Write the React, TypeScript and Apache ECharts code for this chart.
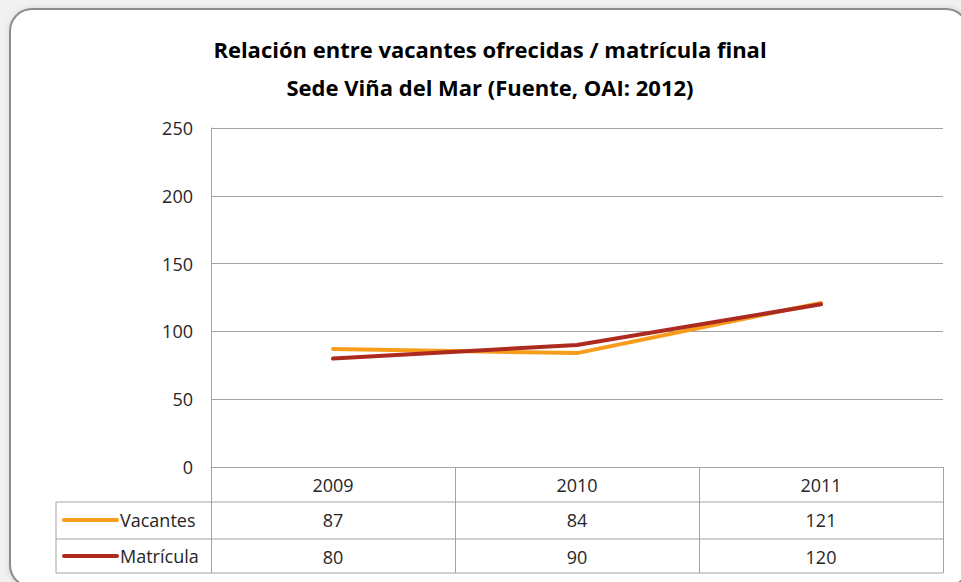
import React, { useEffect, useRef } from 'react';
import * as echarts from 'echarts';

const years = ['2009', '2010', '2011'];
const vacantes = [87, 84, 121];
const matricula = [80, 90, 120];
const seriesNames = ['Vacantes', 'Matrícula'];
const seriesColors = ['#F89C1C', '#AC2A1E'];
const titleLines = ['Relación entre vacantes ofrecidas / matrícula final', 'Sede Viña del Mar (Fuente, OAI: 2012)'];
const yMin = 0;
const yMax = 250;
const yStep = 50;

const FONT = "'Open Sans', 'Noto Sans', sans-serif";
const LINE_GRAY = '#a3a3a3';
const TEXT = '#262626';

export default function App() {
  const ref = useRef<HTMLDivElement>(null);
  useEffect(() => {
    const chart = echarts.init(ref.current!, null, { renderer: 'svg' });
    const rowData = [vacantes, matricula];
    const tableLeft = 56;
    const gridLeft = 211;
    const gridRight = 943;
    const rowLines = [502, 539, 573];
    const rowCenters = [520, 556];
    const graphic: any[] = [
      {
        type: 'rect',
        z: -10,
        shape: { x: 10, y: 9, width: 958, height: 578, r: 22 },
        style: { fill: '#ffffff', stroke: '#8c8c8c', lineWidth: 2, shadowBlur: 6, shadowColor: 'rgba(0,0,0,0.18)', shadowOffsetX: 1, shadowOffsetY: 1 },
      },
      {
        type: 'text',
        x: 490,
        y: 68,
        style: {
          text: titleLines.join('\n'),
          font: `bold 22px ${FONT}`,
          fill: '#000',
          align: 'center',
          verticalAlign: 'middle',
          lineHeight: 38,
        },
      },
      ...rowLines.map((y) => ({
        type: 'line',
        shape: { x1: tableLeft, y1: y, x2: gridRight, y2: y },
        style: { stroke: LINE_GRAY, lineWidth: 1 },
      })),
      {
        type: 'line',
        shape: { x1: tableLeft, y1: rowLines[0], x2: tableLeft, y2: rowLines[2] },
        style: { stroke: LINE_GRAY, lineWidth: 1 },
      },
      ...seriesNames.flatMap((name, i) => [
        {
          type: 'line',
          shape: { x1: 64, y1: rowCenters[i], x2: 117, y2: rowCenters[i] },
          style: { stroke: seriesColors[i], lineWidth: 4, lineCap: 'round' },
        },
        {
          type: 'text',
          x: 120,
          y: rowCenters[i],
          style: { text: name, font: `18px ${FONT}`, fill: TEXT, verticalAlign: 'middle', align: 'left' },
        },
      ]),
    ];

    chart.setOption({
      animation: false,
      backgroundColor: '#f1f1f1',
      textStyle: { fontFamily: FONT },
      grid: { left: gridLeft, right: 961 - gridRight, top: 128, bottom: 582 - 467, containLabel: false },
      graphic,
      xAxis: [
        {
          type: 'category',
          data: years,
          boundaryGap: true,
          axisLine: { show: true, lineStyle: { color: LINE_GRAY, width: 1 } },
          axisTick: { show: true, length: 106, lineStyle: { color: LINE_GRAY, width: 1 } },
          axisLabel: { fontSize: 18, color: TEXT, margin: 9, fontFamily: FONT },
          splitLine: { show: false },
        },
        ...rowData.map((vals, i) => ({
          type: 'category',
          position: 'bottom',
          offset: 35 + i * 37,
          data: vals.map(String),
          boundaryGap: true,
          axisLine: { show: false },
          axisTick: { show: false },
          axisLabel: { fontSize: 18, color: TEXT, margin: 9, fontFamily: FONT },
          splitLine: { show: false },
        })),
      ],
      yAxis: {
        type: 'value',
        min: yMin,
        max: yMax,
        interval: yStep,
        axisLine: { show: true, lineStyle: { color: LINE_GRAY, width: 1 } },
        axisTick: { show: false },
        axisLabel: { fontSize: 18, color: TEXT, margin: 18, fontFamily: FONT },
        splitLine: { show: true, lineStyle: { color: LINE_GRAY, width: 1 } },
      },
      series: rowData.map((vals, i) => ({
        name: seriesNames[i],
        type: 'line',
        xAxisIndex: 0,
        data: vals,
        symbol: 'none',
        lineStyle: { color: seriesColors[i], width: 4, cap: 'round' },
        itemStyle: { color: seriesColors[i] },
        z: 3 + i,
      })),
    });
    return () => chart.dispose();
  }, []);
  return (
    <div style={{ position: 'fixed', left: 0, top: 0, width: 961, height: 582 }}>
      <div ref={ref} style={{ width: 961, height: 582 }} />
    </div>
  );
}
